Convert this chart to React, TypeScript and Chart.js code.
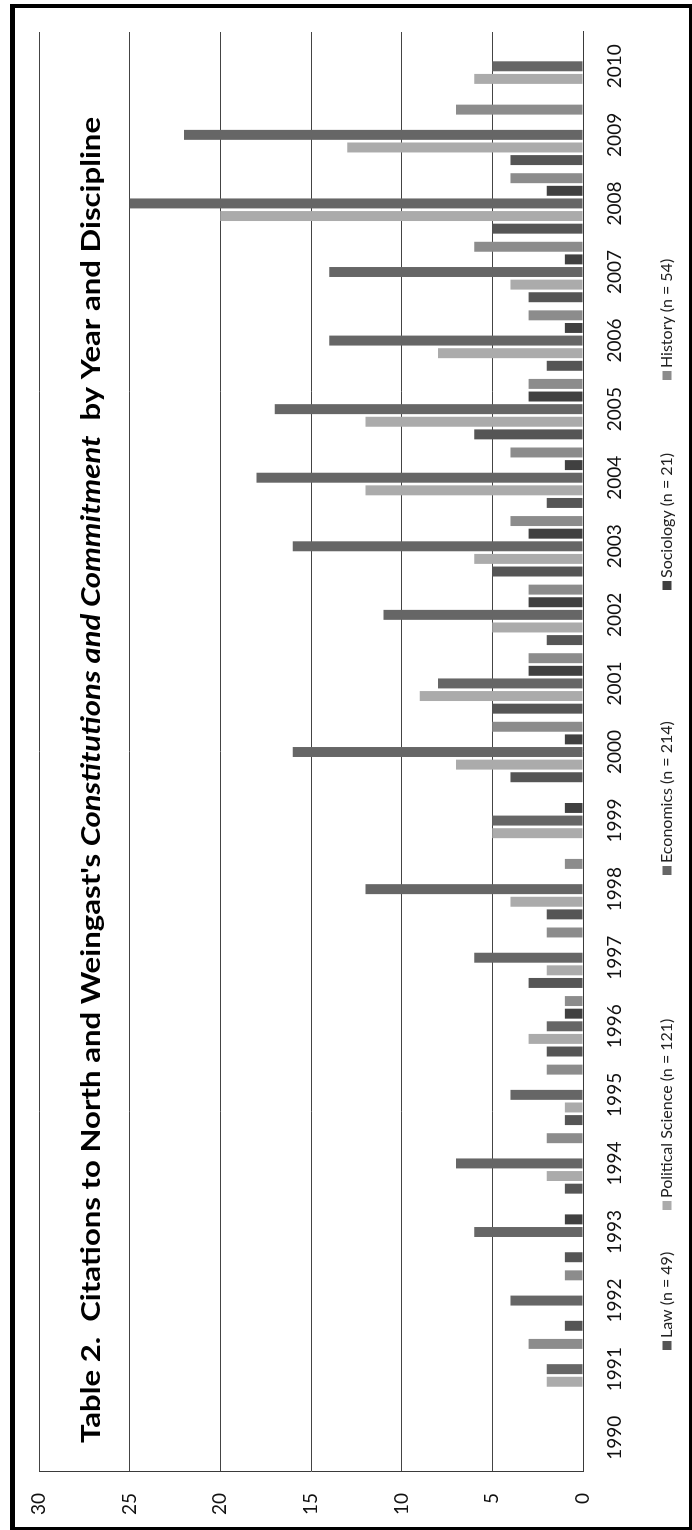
import React, { useEffect, useRef } from "react";
import { Chart, registerables } from "chart.js";

Chart.register(...registerables);

// ---- data ----
const years = [
  "1990", "1991", "1992", "1993", "1994", "1995", "1996", "1997", "1998", "1999", "2000",
  "2001", "2002", "2003", "2004", "2005", "2006", "2007", "2008", "2009", "2010",
];
const lawCounts = [0, 0, 1, 1, 1, 1, 2, 3, 2, 0, 4, 5, 2, 5, 2, 6, 2, 3, 5, 4, 0];
const politicalScienceCounts = [0, 2, 0, 0, 2, 1, 3, 2, 4, 5, 7, 9, 5, 6, 12, 12, 8, 4, 20, 13, 6];
const economicsCounts = [0, 2, 4, 6, 7, 4, 2, 6, 12, 5, 16, 8, 11, 16, 18, 17, 14, 14, 25, 22, 5];
const sociologyCounts = [0, 0, 0, 1, 0, 0, 1, 0, 0, 1, 1, 3, 3, 3, 1, 3, 1, 1, 2, 0, 0];
const historyCounts = [0, 3, 1, 0, 2, 2, 1, 2, 1, 0, 5, 3, 3, 4, 4, 3, 3, 6, 4, 7, 0];
const seriesLabels = [
  "Law (n = 49)",
  "Political Science (n = 121)",
  "Economics (n = 214)",
  "Sociology (n = 21)",
  "History (n = 54)",
];
const valueMin = 0;
const valueMax = 30;
const valueStep = 5;
const titleSegments = [
  { text: "Table 2.  Citations to North and Weingast's ", italic: false },
  { text: "Constitutions and Commitment", italic: true },
  { text: "  by Year and Discipline", italic: false },
];

// ---- styles / layout (unrotated frame: 1530 x 692, then rotated -90deg) ----
const W = 1530;
const H = 692;
const seriesColors = ["#555555", "#ababab", "#666666", "#404040", "#8c8c8c"];
const legendStarts = [180, 320, 655, 940, 1150];

const overlayPlugin = {
  id: "overlay",
  beforeDraw(chart: any) {
    const ctx = chart.ctx;
    ctx.save();
    ctx.fillStyle = "#ffffff";
    ctx.fillRect(0, 0, W, H);
    ctx.restore();
  },
  afterDraw(chart: any) {
    const ctx: CanvasRenderingContext2D = chart.ctx;
    ctx.save();
    // frame
    ctx.fillStyle = "#000";
    ctx.fillRect(0, 10, 1526, 5);
    ctx.fillRect(0, 689, 1526, 3);
    ctx.fillRect(0, 10, 3, 682);
    ctx.fillRect(1522, 10, 4, 682);

    // title
    const size = 26;
    let total = 0;
    const widths: number[] = [];
    for (const s of titleSegments) {
      ctx.font = `${s.italic ? "italic " : ""}bold ${size}px Lato`;
      const w = ctx.measureText(s.text).width;
      widths.push(w);
      total += w;
    }
    const targetW = 1326;
    const sx = targetW / total;
    ctx.save();
    ctx.translate(87, 100);
    ctx.scale(sx, 1);
    ctx.fillStyle = "#000";
    ctx.textBaseline = "alphabetic";
    ctx.textAlign = "left";
    let x = 0;
    titleSegments.forEach((s, i) => {
      ctx.font = `${s.italic ? "italic " : ""}bold ${size}px Lato`;
      ctx.fillText(s.text, x, 0);
      x += widths[i];
    });
    ctx.restore();

    // legend
    ctx.font = "16px Lato";
    ctx.textBaseline = "middle";
    ctx.textAlign = "left";
    chart.data.datasets.forEach((ds: any, i: number) => {
      const x0 = legendStarts[i];
      ctx.fillStyle = ds.backgroundColor;
      ctx.fillRect(x0, 667 - 4.5, 9, 9);
      ctx.fillStyle = "#222";
      ctx.fillText(ds.label, x0 + 12, 667);
    });
    ctx.restore();
  },
};

export default function App() {
  const ref = useRef<HTMLCanvasElement>(null);
  useEffect(() => {
    const canvas = ref.current;
    if (!canvas) return;
    const seriesData = [lawCounts, politicalScienceCounts, economicsCounts, sociologyCounts, historyCounts];
    const chart = new Chart(canvas, {
      type: "bar",
      data: {
        labels: years,
        datasets: seriesData.map((d, i) => ({
          label: seriesLabels[i],
          data: d,
          backgroundColor: seriesColors[i],
          borderWidth: 0,
          categoryPercentage: 0.92,
          barPercentage: 0.79,
        })),
      },
      options: {
        responsive: false,
        animation: false,
        devicePixelRatio: 1,
        layout: { padding: { top: 39, right: 32, bottom: 0, left: 0 } },
        plugins: {
          legend: { display: false },
          title: { display: false },
          tooltip: { enabled: false },
        },
        scales: {
          x: {
            type: "category",
            grid: { display: false, drawTicks: false },
            border: { display: true, color: "#3a3a3a", width: 1 },
            ticks: {
              color: "#111",
              font: { family: "Lato", size: 19 },
              padding: 20,
              maxRotation: 0,
              minRotation: 0,
              autoSkip: false,
            },
            afterFit: (s: any) => {
              s.height = 109;
            },
          },
          y: {
            min: valueMin,
            max: valueMax,
            grid: { color: "#444", lineWidth: 1, drawTicks: false },
            border: { display: true, color: "#3a3a3a", width: 1 },
            ticks: {
              stepSize: valueStep,
              color: "#111",
              font: { family: "Lato", size: 19 },
              padding: 21,
            },
            afterFit: (s: any) => {
              s.width = 58;
            },
          },
        },
      },
      plugins: [overlayPlugin],
    });
    return () => chart.destroy();
  }, []);

  return (
    <div
      style={{
        position: "fixed",
        left: 0,
        top: 0,
        width: 692,
        height: 1530,
        overflow: "hidden",
        background: "#fff",
      }}
    >
      <div
        style={{
          position: "absolute",
          left: 0,
          top: 0,
          width: W,
          height: H,
          transformOrigin: "0 0",
          transform: `translate(0px, ${W}px) rotate(-90deg)`,
        }}
      >
        <canvas ref={ref} width={W} height={H} style={{ display: "block", width: W, height: H }} />
      </div>
    </div>
  );
}
